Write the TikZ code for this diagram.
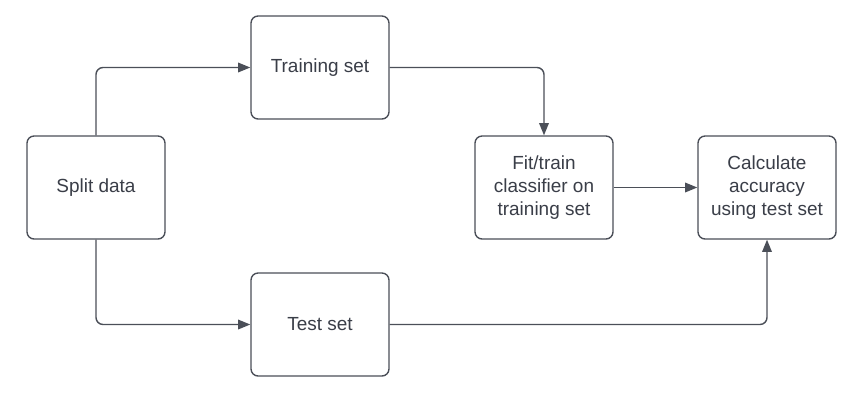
\documentclass[tikz,border=0pt]{standalone}
\usepackage{fontspec}
\setmainfont{Liberation Sans}
\usepackage{xcolor}
\usetikzlibrary{arrows.meta}
\definecolor{boxline}{HTML}{4B4F58}
\definecolor{textmain}{HTML}{3A3E48}

\tikzset{
  stagebox/.style={draw=boxline, line width=0.8pt, rounded corners=4pt, fill=white,
    minimum width=2.76cm, minimum height=2.06cm, align=center, inner sep=2pt,
    font=\fontsize{10.8}{13}\selectfont\color{textmain}},
  flow/.style={draw=boxline, line width=0.8pt, rounded corners=4pt,
    -{Triangle[length=7pt,width=5.5pt]}}
}

\begin{document}
\begin{tikzpicture}[x=0.02cm, y=-0.02cm]
\useasboundingbox (0,0) rectangle (859,400);

% Stages
\node[stagebox] (split) at (96, 187.5) {Split data};
\node[stagebox] (train) at (320, 67.5) {Training set};
\node[stagebox] (test) at (320, 324.5) {Test set};
\node[stagebox] (fit) at (544, 187.5) {Fit/train\\classifier on\\training set};
\node[stagebox] (calc) at (767, 187.5) {Calculate\\accuracy\\using test set};

% Connectors
\draw[flow] (split.north) |- (train.west);
\draw[flow] (split.south) |- (test.west);
\draw[flow] (train.east) -| (fit.north);
\draw[flow] (fit.east) -- (calc.west);
\draw[flow] (test.east) -| (calc.south);

\end{tikzpicture}
\end{document}
